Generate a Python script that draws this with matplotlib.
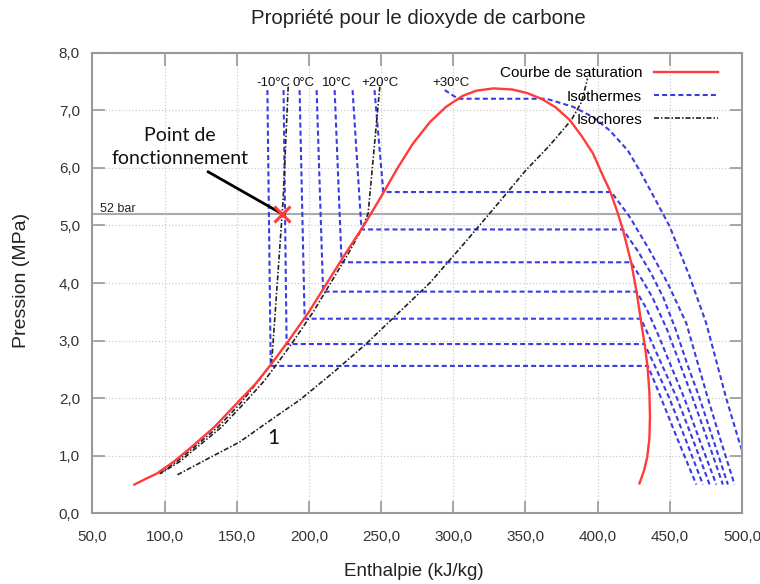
import matplotlib
matplotlib.use('Agg')
import matplotlib.pyplot as plt
from matplotlib.ticker import FuncFormatter, MultipleLocator

plt.rcParams['font.family'] = ['Liberation Sans', 'DejaVu Sans']

# courbe de saturation (h en kJ/kg, P en MPa)
h_sat = [79, 87, 94.5, 106.5, 119, 134.5, 150, 163, 174.1, 186, 200, 212.5, 225, 238,
         250, 261.5, 272, 284, 295, 306.5, 316, 328, 341, 351, 361, 371, 380.7, 389,
         396.8, 403, 408.4, 413.5, 417.6, 420.8, 423.4, 427, 430.3, 432.8, 434.6, 435.9,
         436.3, 435.9, 434.4, 432.3, 429]
p_sat = [0.5, 0.6, 0.69, 0.9, 1.16, 1.5, 1.91, 2.25, 2.6, 3.0, 3.5, 4.0, 4.5, 5.0,
         5.5, 6.0, 6.42, 6.8, 7.06, 7.25, 7.34, 7.38, 7.36, 7.3, 7.2, 7.05, 6.83, 6.55,
         6.25, 5.9, 5.61, 5.25, 4.92, 4.6, 4.34, 3.85, 3.3, 2.9, 2.55, 2.1,
         1.68, 1.3, 0.98, 0.75, 0.52]

# isothermes -10 .. +20 degC
iso_temps = ['-10', '-5', '0', '5', '10', '15', '20']
iso_p_top = 7.35
iso_psat = [2.56, 2.94, 3.38, 3.85, 4.36, 4.93, 5.58]
iso_h_top = [171.2, 182.4, 193.5, 205.3, 217.8, 230.2, 245.4]
iso_h_liq = [173.5, 184.5, 197.0, 209.8, 222.6, 236.4, 251.5]
iso_vap_h = [
    [434.8, 439.5, 444, 456, 468.4],
    [432.5, 439.5, 449.7, 461.5, 473],
    [430, 437, 446, 455, 466.5, 477.6],
    [427, 434, 442, 451, 460.1, 471, 482.3],
    [423, 431, 438, 448, 457, 465.9, 476.5, 486.8],
    [417.5, 428, 437, 445.5, 454, 462, 470.7, 480.5, 490.3],
    [409.5, 422.2, 436, 448.7, 461.5, 469.5, 476.4, 485.5, 494.9],
]
iso_vap_p = [
    [2.56, 2.28, 2.0, 1.25, 0.5],
    [2.94, 2.57, 2.0, 1.25, 0.5],
    [3.38, 3.0, 2.5, 2.0, 1.25, 0.5],
    [3.85, 3.55, 3.1, 2.55, 2.0, 1.25, 0.5],
    [4.36, 4.05, 3.75, 3.2, 2.6, 2.0, 1.25, 0.5],
    [4.93, 4.55, 4.17, 3.75, 3.2, 2.6, 2.0, 1.25, 0.5],
    [5.58, 5.15, 4.57, 3.99, 3.3, 2.6, 2.0, 1.25, 0.5],
]
# isotherme +30 degC
h_30 = [294.1, 303.3, 364.5, 383, 397, 408.4, 421, 429, 440, 450, 463.8, 475.3, 489.1, 498.4, 502]
p_30 = [7.35, 7.2, 7.2, 7.06, 6.88, 6.65, 6.3, 5.96, 5.45, 4.98, 4.11, 3.30, 2.0, 1.22, 0.95]

# isochores
h_isoA = [185.6, 182.1, 174.1, 165, 152.5, 137, 121, 108.5, 96]
p_isoA = [7.41, 5.44, 2.6, 2.3, 1.91, 1.5, 1.16, 0.9, 0.68]
h_isoB = [249.1, 241, 237.5, 227, 215, 203, 189.5, 178, 169, 155, 139.5, 123, 110.5, 97]
p_isoB = [7.41, 5.21, 4.98, 4.5, 4.0, 3.5, 3.0, 2.6, 2.3, 1.91, 1.5, 1.16, 0.9, 0.69]
h_iso1 = [108.9, 130, 152, 175.2, 193.7, 217, 239.9, 262, 283.7, 308, 333, 350, 366.8,
          381.8, 389, 393]
p_iso1 = [0.67, 0.95, 1.24, 1.65, 1.97, 2.45, 2.95, 3.48, 4.0, 4.7, 5.44, 5.95, 6.39,
          6.83, 7.15, 7.55]

label_h = [175.7, 196.5, 219.3, 249.1, 298.3]
label_txt = ['-10°C', '0°C', '10°C', '+20°C', '+30°C']

p_fonct = 5.2
h_fonct = 181.4

red = '#ff3b3b'
blue = '#3a3ae6'
dark = '#222222'
iso_style = (0, (2.4, 1.5))
isoch_style = (0, (3, 1.2, 0.9, 1.2))

fig = plt.figure(figsize=(7.6, 5.84), dpi=100)
ax = fig.add_axes([0.1217, 0.121, 0.8545, 0.7888])

for i in range(len(iso_temps)):
    hs = [iso_h_top[i], iso_h_liq[i]] + iso_vap_h[i]
    ps = [iso_p_top, iso_psat[i]] + iso_vap_p[i]
    ax.plot(hs, ps, color=blue, lw=1.5, linestyle=iso_style, zorder=2,
            label='Isothermes' if i == 0 else None)
ax.plot(h_30, p_30, color=blue, lw=1.5, linestyle=iso_style, zorder=2)

ax.plot(h_isoA, p_isoA, color=dark, lw=1.2, linestyle=isoch_style, zorder=3, label='Isochores')
ax.plot(h_isoB, p_isoB, color=dark, lw=1.2, linestyle=isoch_style, zorder=3)
ax.plot(h_iso1, p_iso1, color=dark, lw=1.2, linestyle=isoch_style, zorder=3)

ax.plot(h_sat, p_sat, color=red, lw=1.7, zorder=4, label='Courbe de saturation')

ax.axhline(p_fonct, color='#aaaaaa', lw=1.5, zorder=1)
ax.text(55.2, p_fonct + 0.035, '52 bar', fontsize=9, color='#222222', va='baseline', ha='left')

for h, t in zip(label_h, label_txt):
    ax.text(h, 7.475, t, fontsize=9.5, ha='center', va='center', color='#111111')

ax.plot([130.2, h_fonct], [5.93, p_fonct], color='black', lw=2, zorder=5)
ax.plot(h_fonct, p_fonct, marker='x', color=red, markersize=12, mew=2.2, zorder=6)
ax.text(110.6, 6.36, 'Point de\nfonctionnement', family=['Lato', 'DejaVu Sans'],
        fontsize=14, ha='center', va='center', linespacing=1.4, color='#111111')
ax.text(175.2, 1.30, '1', family=['Lato', 'DejaVu Sans'], fontsize=15,
        ha='center', va='center', color='#111111')

ax.set_xlim(50, 500)
ax.set_ylim(0, 8)
ax.xaxis.set_major_locator(MultipleLocator(50))
ax.yaxis.set_major_locator(MultipleLocator(1))
fmt = FuncFormatter(lambda v, pos: ('%.1f' % v).replace('.', ','))
ax.xaxis.set_major_formatter(fmt)
ax.yaxis.set_major_formatter(fmt)
ax.tick_params(direction='in', length=9, width=1.2, color='#999999', labelsize=11,
               labelcolor='#333333', top=True, right=True)
ax.tick_params(axis='x', pad=12)
ax.tick_params(axis='y', pad=9)
ax.grid(True, linestyle=':', color='#cccccc', lw=0.9)
for s in ax.spines.values():
    s.set_color('#999999')
    s.set_linewidth(1.5)

handles, labels = ax.get_legend_handles_labels()
order = [labels.index('Courbe de saturation'), labels.index('Isothermes'), labels.index('Isochores')]
ax.legend([handles[k] for k in order], [labels[k] for k in order], loc='upper right',
          bbox_to_anchor=(0.985, 1.0), frameon=False, markerfirst=False, handlelength=4.2,
          fontsize=11, labelspacing=0.6, handletextpad=0.8)

fig.text(418 / 760, 1 - 18 / 584, 'Propriété pour le dioxyde de carbone', fontsize=14.7,
         ha='center', va='center', color='#222222')
fig.text(414 / 760, 1 - 571 / 584, 'Enthalpie (kJ/kg)', fontsize=13.5,
         ha='center', va='center', color='#222222')
fig.text(22 / 760, 1 - 280 / 584, 'Pression (MPa)', fontsize=14, rotation=90,
         ha='center', va='center', color='#222222')

fig.savefig('out.png', dpi=100)
